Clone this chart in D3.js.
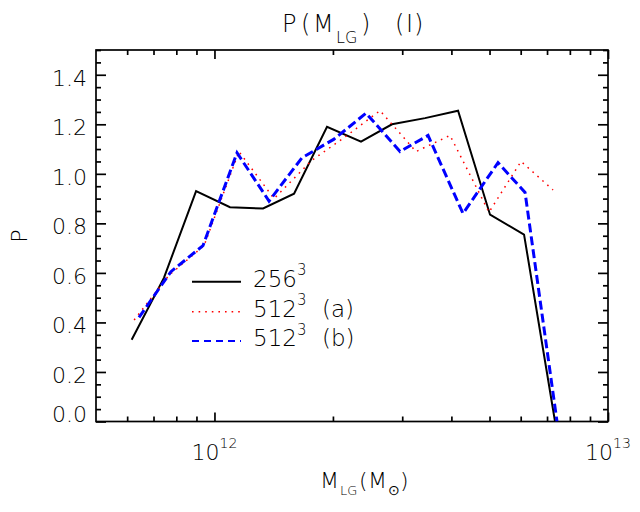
<!DOCTYPE html>
<html>
<head>
<meta charset="utf-8">
<script src="https://cdn.jsdelivr.net/npm/d3@7"></script>
<style>
  html, body { margin: 0; padding: 0; background: #fff; }
  svg { display: block; }
  text { font-family: "DejaVu Sans", "Liberation Sans", sans-serif; font-weight: 200; fill: #000; }
</style>
</head>
<body>
<svg id="chart" width="640" height="512"></svg>
<script>
// ---- data ----
const massBlack = [6.16e11, 7.44e11, 8.98e11, 1.095e12, 1.329e12, 1.593e12, 1.932e12, 2.357e12, 2.826e12, 3.428e12, 4.159e12, 5.015e12, 6.119e12, 7.335e12];
const p256      = [0.33, 0.58, 0.93, 0.865, 0.86, 0.92, 1.19, 1.13, 1.20, 1.225, 1.255, 0.835, 0.755, 0.0];
const massA     = [6.25e11, 7.66e11, 9.41e11, 1.154e12, 1.417e12, 1.769e12, 2.109e12, 2.635e12, 3.252e12, 3.968e12, 4.984e12, 6.012e12, 7.25e12];
const p512a     = [0.41, 0.59, 0.71, 1.09, 0.90, 1.055, 1.14, 1.255, 1.09, 1.155, 0.845, 1.05, 0.935];
const massB     = [6.43e11, 7.75e11, 9.35e11, 1.141e12, 1.376e12, 1.669e12, 2.013e12, 2.427e12, 2.962e12, 3.489e12, 4.281e12, 5.254e12, 6.155e12, 7.42e12];
const p512b     = [0.42, 0.605, 0.71, 1.085, 0.89, 1.065, 1.14, 1.245, 1.09, 1.155, 0.84, 1.045, 0.925, 0.0];

const xMajor = [1e12, 1e13];
const xMajorExp = ["12", "13"];
const xMinor = [6e11, 7e11, 8e11, 9e11, 2e12, 3e12, 4e12, 5e12, 6e12, 7e12, 8e12, 9e12];
const yMajor = [0, 0.2, 0.4, 0.6, 0.8, 1.0, 1.2, 1.4];
const yMinorStep = 0.05;

const legendLabels = [
  {base: "256", sup: "3", tail: ""},
  {base: "512", sup: "3", tail: "(a)"},
  {base: "512", sup: "3", tail: "(b)"}
];

// ---- layout ----
const L = 96, R = 608, T = 50, B = 421.5;
const svg = d3.select("#chart");
const x = d3.scaleLog().domain([5e11, 1e13]).range([L, R]);
const y = d3.scaleLinear().domain([0, 1.5]).range([B, T]);

svg.append("defs").append("clipPath").attr("id", "clip")
  .append("rect").attr("x", L).attr("y", T).attr("width", R - L).attr("height", B - T);

// ---- axes (ticks inward on all four sides) ----
const axStroke = 1.7;
function styleAxis(g) {
  g.select(".domain").remove();
  g.selectAll(".tick line").attr("stroke", "#000").attr("stroke-width", axStroke);
  g.selectAll(".tick text").remove();
}
svg.append("g").attr("transform", `translate(0,${B})`)
  .call(d3.axisBottom(x).tickValues(xMajor).tickSize(-9)).call(styleAxis);
svg.append("g").attr("transform", `translate(0,${B})`)
  .call(d3.axisBottom(x).tickValues(xMinor).tickSize(-5)).call(styleAxis);
svg.append("g").attr("transform", `translate(0,${T})`)
  .call(d3.axisTop(x).tickValues(xMajor).tickSize(-9)).call(styleAxis);
svg.append("g").attr("transform", `translate(0,${T})`)
  .call(d3.axisTop(x).tickValues(xMinor).tickSize(-5)).call(styleAxis);

const yMinor = d3.range(0, 1.5 + 1e-9, yMinorStep).filter(v => !yMajor.some(m => Math.abs(m - v) < 1e-6));
svg.append("g").attr("transform", `translate(${L},0)`)
  .call(d3.axisLeft(y).tickValues(yMajor).tickSize(-10)).call(styleAxis);
svg.append("g").attr("transform", `translate(${L},0)`)
  .call(d3.axisLeft(y).tickValues(yMinor).tickSize(-5)).call(styleAxis);
svg.append("g").attr("transform", `translate(${R},0)`)
  .call(d3.axisRight(y).tickValues(yMajor).tickSize(-10)).call(styleAxis);
svg.append("g").attr("transform", `translate(${R},0)`)
  .call(d3.axisRight(y).tickValues(yMinor).tickSize(-5)).call(styleAxis);

// frame
svg.append("rect").attr("x", L).attr("y", T).attr("width", R - L).attr("height", B - T)
  .attr("fill", "none").attr("stroke", "#000").attr("stroke-width", axStroke);

// tick labels
const fmt = d3.format(".1f");
svg.append("g").selectAll("text").data(yMajor).join("text")
  .attr("x", 87).attr("y", d => d === 0 ? y(d) : y(d) + 11)
  .attr("text-anchor", "end").attr("font-size", 22)
  .text(d => fmt(d));

const xl = svg.append("g").selectAll("text").data(xMajor).join("text")
  .attr("x", d => x(d)).attr("y", 460).attr("text-anchor", "middle").attr("font-size", 22);
xl.append("tspan").text("10");
xl.append("tspan").attr("font-size", 14).attr("dy", -12).text((d, i) => xMajorExp[i]);

// ---- series ----
const line = d3.line().x(d => x(d[0])).y(d => y(d[1]));
const plot = svg.append("g").attr("clip-path", "url(#clip)");
plot.append("path").datum(d3.zip(massBlack, p256)).attr("d", line)
  .attr("fill", "none").attr("stroke", "#000").attr("stroke-width", 2);
plot.append("path").datum(d3.zip(massA, p512a)).attr("d", line)
  .attr("fill", "none").attr("stroke", "#ff0000").attr("stroke-width", 1.5)
  .attr("stroke-dasharray", "1.6,5");
plot.append("path").datum(d3.zip(massB, p512b)).attr("d", line)
  .attr("fill", "none").attr("stroke", "#0000ff").attr("stroke-width", 3)
  .attr("stroke-dasharray", "9,4");

// ---- legend ----
const legStyles = [
  {color: "#000", width: 2, dash: null},
  {color: "#ff0000", width: 1.5, dash: "1.6,5"},
  {color: "#0000ff", width: 2.2, dash: "7,5"}
];
const legY = [281.7, 311.7, 341];
legendLabels.forEach((lab, i) => {
  const s = legStyles[i];
  const ln = svg.append("line").attr("x1", 192).attr("x2", 241).attr("y1", legY[i]).attr("y2", legY[i])
    .attr("stroke", s.color).attr("stroke-width", s.width);
  if (s.dash) ln.attr("stroke-dasharray", s.dash);
  const t = svg.append("text").attr("x", 253).attr("y", legY[i] + 5).attr("font-size", 23);
  t.append("tspan").text(lab.base);
  t.append("tspan").attr("font-size", 15).attr("dy", -11.5).text(lab.sup);
  if (lab.tail) t.append("tspan").attr("x", 322).attr("dy", 11.5).text(lab.tail);
});

// ---- titles ----
const title = svg.append("text").attr("y", 31.7).attr("font-size", 24);
title.append("tspan").attr("x", 282).text("P");
title.append("tspan").attr("x", 301).text("(");
title.append("tspan").attr("x", 313).text("M");
title.append("tspan").attr("x", 336).attr("dy", 11.6).attr("font-size", 16).text("LG");
title.append("tspan").attr("x", 361).attr("dy", -11.6).text(")");
title.append("tspan").attr("x", 395).text("(");
title.append("tspan").attr("x", 406).text("I");
title.append("tspan").attr("x", 414).text(")");

const xt = svg.append("text").attr("y", 488).attr("font-size", 22);
xt.append("tspan").attr("x", 320).text("M");
xt.append("tspan").attr("x", 340).attr("dy", 7).attr("font-size", 13).text("LG");
xt.append("tspan").attr("x", 359).attr("dy", -7).text("(");
xt.append("tspan").attr("x", 368).text("M");
xt.append("tspan").attr("x", 388).attr("dy", 7).attr("font-size", 14).text("\u2299");
xt.append("tspan").attr("x", 400).attr("dy", -7).text(")");

svg.append("text").attr("transform", "translate(27,236) rotate(-90)")
  .attr("text-anchor", "middle").attr("font-size", 22).text("P");
</script>
</body>
</html>
